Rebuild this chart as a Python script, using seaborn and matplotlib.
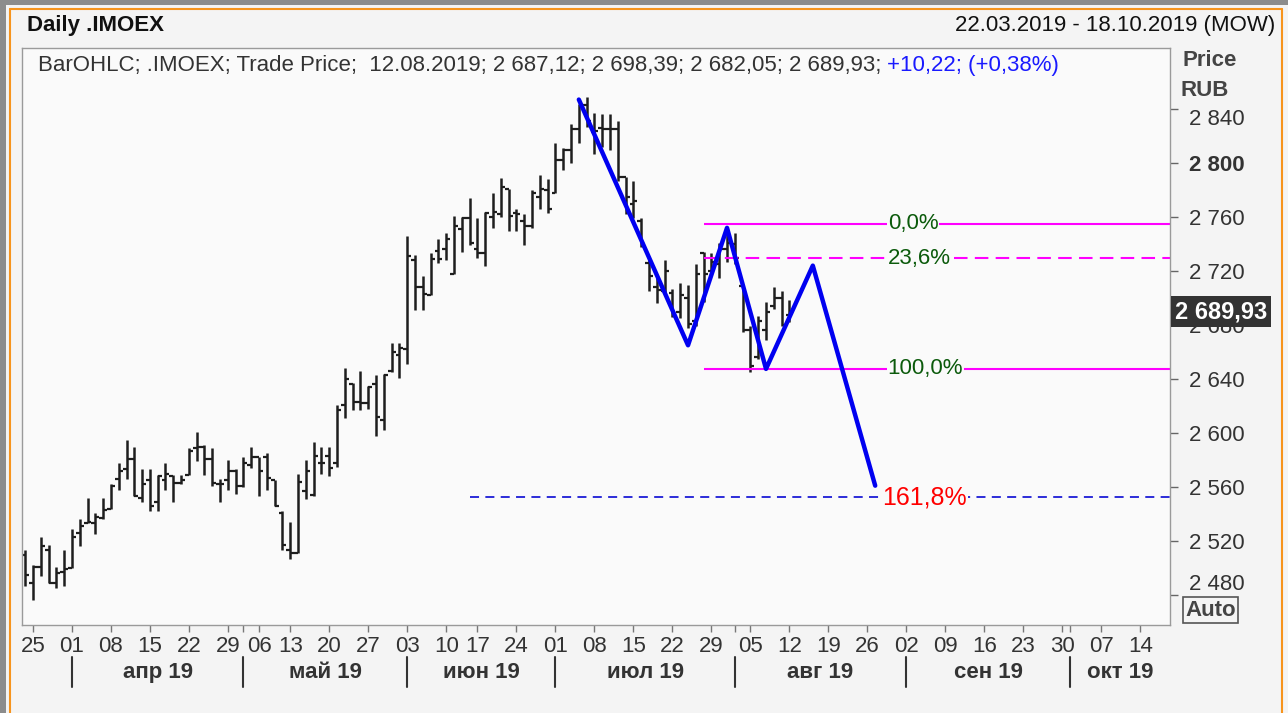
"""
Daily .IMOEX bar chart (OHLC) with a hand-drawn zigzag and fibonacci levels
"""
import pandas as pd
import seaborn as sns
import matplotlib.pyplot as plt
from matplotlib.lines import Line2D
from matplotlib.patches import Rectangle

sns.set_theme(style="white")
plt.rcParams["font.family"] = ["Liberation Sans", "DejaVu Sans"]

# trading calendar (MOEX holidays removed) + empty future part of the axis
holidays = ["2019-05-01", "2019-05-09", "2019-06-12"]
bar_dates = pd.bdate_range("2019-03-22", "2019-08-12").drop(pd.to_datetime(holidays))
future_dates = pd.bdate_range("2019-08-13", "2019-10-18")

# OHLC values
open_ = [2510, 2489, 2501, 2513, 2489, 2497,
         2500, 2526, 2533, 2533, 2537,
         2544, 2566, 2573, 2581, 2552,
         2565, 2549, 2565, 2568, 2563,
         2569, 2589, 2590, 2581, 2562,
         2565, 2572, 2561, 2576,
         2582, 2582, 2565, 2541,
         2513, 2511, 2557, 2554, 2578,
         2583, 2578, 2621, 2636, 2623,
         2622, 2636, 2610, 2646, 2658,
         2662, 2728, 2708, 2702, 2735,
         2736, 2718, 2751, 2759,
         2736, 2733, 2760, 2762, 2781,
         2763, 2757, 2753, 2775, 2780,
         2778, 2802, 2810, 2825, 2843,
         2823, 2826, 2825, 2825, 2790,
         2770, 2757, 2726, 2708, 2705,
         2704, 2690, 2700, 2683, 2733,
         2720, 2725, 2736, 2740, 2709,
         2676, 2656, 2676, 2694, 2700,
         2687.12]
high = [2513, 2502, 2523, 2517, 2501, 2513,
        2529, 2536, 2552, 2541, 2552,
        2562, 2578, 2595, 2590, 2573,
        2573, 2569, 2578, 2569, 2569,
        2589, 2601, 2591, 2589, 2566,
        2580, 2573, 2582, 2590,
        2582, 2585, 2565, 2542,
        2534, 2570, 2580, 2593, 2590,
        2590, 2621, 2648, 2637, 2646,
        2635, 2643, 2644, 2667, 2667,
        2746, 2732, 2716, 2733, 2744,
        2748, 2761, 2760, 2774,
        2759, 2764, 2778, 2789, 2781,
        2766, 2762, 2780, 2791, 2788,
        2815, 2811, 2829, 2844, 2849,
        2837, 2836, 2836, 2831, 2790,
        2787, 2759, 2728, 2716, 2728,
        2707, 2711, 2710, 2725, 2734,
        2733, 2741, 2750, 2748, 2710,
        2679, 2687, 2697, 2708, 2705,
        2698.39]
low = [2487, 2476, 2494, 2489, 2485, 2487,
       2500, 2516, 2533, 2525, 2536,
       2544, 2558, 2566, 2553, 2549,
       2542, 2542, 2558, 2549, 2562,
       2569, 2579, 2569, 2561, 2549,
       2558, 2555, 2560, 2574,
       2553, 2558, 2546, 2513,
       2507, 2511, 2551, 2553, 2570,
       2568, 2575, 2611, 2617, 2617,
       2618, 2598, 2602, 2645, 2641,
       2651, 2691, 2691, 2702, 2726,
       2728, 2718, 2734, 2739,
       2730, 2724, 2752, 2760, 2750,
       2750, 2739, 2752, 2766, 2763,
       2778, 2795, 2800, 2815, 2827,
       2807, 2812, 2810, 2787, 2762,
       2759, 2738, 2705, 2696, 2702,
       2686, 2685, 2678, 2679, 2697,
       2716, 2715, 2727, 2725, 2675,
       2645, 2655, 2669, 2692, 2679,
       2682.05]
close = [2495, 2501, 2516, 2489, 2496, 2499,
         2523, 2531, 2534, 2538, 2543,
         2561, 2572, 2581, 2553, 2562,
         2546, 2568, 2570, 2563, 2565,
         2587, 2590, 2581, 2563, 2562,
         2572, 2561, 2578, 2582,
         2572, 2567, 2546, 2517,
         2511, 2564, 2572, 2583, 2578,
         2574, 2617, 2640, 2623, 2622,
         2634, 2612, 2643, 2660, 2663,
         2731, 2708, 2703, 2729, 2729,
         2744, 2753, 2759, 2741,
         2733, 2763, 2764, 2782, 2761,
         2762, 2753, 2778, 2781, 2766,
         2802, 2810, 2825, 2843, 2831,
         2824, 2825, 2825, 2790, 2775,
         2772, 2740, 2716, 2706, 2720,
         2687, 2702, 2681, 2718, 2718,
         2727, 2736, 2741, 2730, 2676,
         2650, 2683, 2690, 2700, 2680,
         2689.93]

# zigzag drawing
zz_dates = ["2019-07-04", "2019-07-24", "2019-07-31", "2019-08-07", "2019-08-15", "2019-08-27"]
zz_prices = [2847, 2665, 2752, 2647.5, 2724, 2561]

# fibonacci levels
fib_start = "2019-07-26"
fib_prices = [2755, 2729.6, 2647.5]
fib_labels = ["0,0%", "23,6%", "100,0%"]
fib_styles = ["-", (0, (6.5, 3.5)), "-"]
ext_start = "2019-06-14"
ext_price = 2552.5
ext_label = "161,8%"

yticks = [2480, 2520, 2560, 2600, 2640, 2680, 2720, 2760, 2800, 2840]
months = ["апр 19", "май 19", "июн 19", "июл 19", "авг 19", "сен 19", "окт 19"]
last_price = 2689.93

# ---------------------------------------------------------------
all_dates = bar_dates.append(future_dates)
pos = {d: i for i, d in enumerate(all_dates)}
df = pd.DataFrame({"open": open_, "high": high, "low": low, "close": close}, index=bar_dates)
df["x"] = [pos[d] for d in df.index]
x_right = 146.8

W, H = 1288, 713
fig = plt.figure(figsize=(W / 100, H / 100), dpi=100, facecolor="#f4f4f4")
ax = fig.add_axes([22 / W, 1 - 625 / H, 1148 / W, 577 / H], facecolor="#fafafa")

bar_color = "#1e1e1e"
ax.vlines(df["x"], df["low"], df["high"], color=bar_color, lw=1.8)
ax.hlines(df["open"], df["x"] - 0.5, df["x"], color=bar_color, lw=1.6)
ax.hlines(df["close"], df["x"], df["x"] + 0.5, color=bar_color, lw=1.6)

# fib lines + labels
x0 = pos[pd.Timestamp(fib_start)]
lab_x = pos[pd.Timestamp("2019-08-29")] - 0.4
for p, lab, ls in zip(fib_prices, fib_labels, fib_styles):
    ax.hlines(p, x0, x_right, color="#ff00ff", lw=1.5, linestyles=[ls])
    ax.text(lab_x, p, lab, color="#0b5a0b", fontsize=16, va="center", ha="left",
            bbox=dict(fc="#fafafa", ec="none", pad=0.5), zorder=4)

ax.hlines(ext_price, pos[pd.Timestamp(ext_start)], x_right, color="#1c1cd6", lw=1.3,
          linestyles=[(0, (5, 3.5))])
ax.text(pos[pd.Timestamp("2019-08-28")] - 0.1, ext_price, ext_label, color="#ff0000", fontsize=18,
        va="center", ha="left", bbox=dict(fc="#fafafa", ec="none", pad=0.5), zorder=4)

zz = pd.DataFrame({"x": [pos[pd.Timestamp(d)] for d in zz_dates], "price": zz_prices})
sns.lineplot(data=zz, x="x", y="price", sort=False, color="#0000f0", lw=3.2, ax=ax, zorder=5)
ax.set_xlabel("")
ax.set_ylabel("")

ax.set_xlim(-0.4, x_right)
ax.set_ylim(2457.8, 2885.2)

# y axis on the right
ax.yaxis.tick_right()
ax.set_yticks(yticks, [f"{v:,}".replace(",", " ") for v in yticks])
ax.tick_params(axis="y", right=True, left=False, length=6, width=1, color="#666", pad=8,
               labelsize=16, labelcolor="#333")
for t in ax.get_yticklabels():
    if t.get_text() == "2 800":
        t.set_fontweight("bold")
    if t.get_text() == "2 840":
        t.set_verticalalignment("top")
    if t.get_text() == "2 480":
        t.set_verticalalignment("bottom")

# x axis: week ticks, month bands
mondays = [d for d in all_dates if d.weekday() == 0]
ax.set_xticks([pos[d] for d in mondays], [d.strftime("%d") for d in mondays])
month_first = all_dates.to_series().groupby(all_dates.to_period("M")).first()
month_first = [d for d in month_first if d.month >= 4]
ax.set_xticks([pos[d] for d in month_first], minor=True)
ax.tick_params(axis="x", which="both", bottom=True, length=5, width=1, color="#777", pad=3,
               labelsize=16, labelcolor="#333")

trans = ax.get_xaxis_transform()
mpos = [pos[d] for d in month_first] + [x_right]
for i, name in enumerate(months):
    ax.plot([mpos[i], mpos[i]], [-0.056, -0.108], transform=trans, clip_on=False,
            color="#333", lw=1.5)
    ax.text((mpos[i] + mpos[i + 1]) / 2, -0.0815, name, transform=trans, ha="center",
            va="center", fontsize=16, fontweight="bold", color="#333")

for s in ax.spines.values():
    s.set_color("#9a9a9a")
    s.set_linewidth(1)

# info line
t1 = ax.text(16 / 1148, (625 - 66) / 577,
             "BarOHLC; .IMOEX; Trade Price;  12.08.2019; 2 687,12; 2 698,39; 2 682,05; 2 689,93;",
             transform=ax.transAxes, fontsize=16, color="#333", va="center", ha="left")
ax.annotate("+10,22; (+0,38%)", xy=(1, 0), xycoords=t1, xytext=(4, 0), textcoords="offset points",
            fontsize=16, color="#1a1aff", va="bottom", ha="left")

# last price marker
ax.annotate(f"{last_price:,.2f}".replace(",", " ").replace(".", ","), xy=(1, last_price),
            xycoords=ax.get_yaxis_transform(), xytext=(3.5, 0), textcoords="offset points",
            va="center", ha="left", color="white", fontweight="bold", fontsize=17,
            bbox=dict(boxstyle="square,pad=0.18", fc="#333333", ec="none"),
            annotation_clip=False, zorder=6)

# header + axis captions
fig.text(27 / W, 1 - 25 / H, "Daily .IMOEX", fontsize=16, fontweight="bold", va="center", color="#111")
fig.text(1275 / W, 1 - 25 / H, "22.03.2019 - 18.10.2019 (MOW)", fontsize=16, va="center",
         ha="right", color="#111")
fig.text(1183 / W, 1 - 61 / H, "Price", fontsize=16, fontweight="bold", va="center", color="#444")
fig.text(1181 / W, 1 - 90 / H, "RUB", fontsize=16, fontweight="bold", va="center", color="#444")
fig.text(1185 / W, 1 - 610 / H, "Auto", fontsize=16, fontweight="bold", va="center", color="#444",
         bbox=dict(boxstyle="square,pad=0.1", fc="#f4f4f4", ec="#555", lw=1.2))

# window frame
fig.add_artist(Rectangle((0, 1 - 5 / H), 1, 5 / H, transform=fig.transFigure, fc="#8c8c8c", ec="none"))
fig.add_artist(Rectangle((0, 0), 6 / W, 1, transform=fig.transFigure, fc="#8c8c8c", ec="none"))
orange = "#f7941d"
fig.add_artist(Line2D([10 / W, 10 / W], [0, 1 - 9 / H], transform=fig.transFigure, color=orange, lw=1.5))
fig.add_artist(Line2D([10 / W, 1282 / W], [1 - 9 / H, 1 - 9 / H], transform=fig.transFigure, color=orange, lw=1.5))
fig.add_artist(Line2D([1282 / W, 1282 / W], [0, 1 - 9 / H], transform=fig.transFigure, color=orange, lw=1.5))

fig.savefig("out.png", dpi=100, facecolor=fig.get_facecolor())
